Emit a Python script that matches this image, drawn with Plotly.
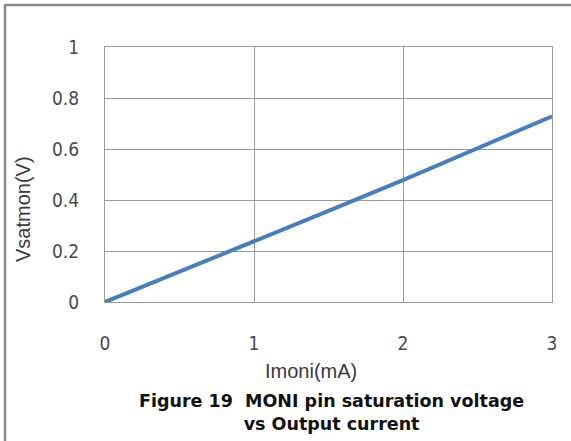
import plotly.graph_objects as go

imoni_ma = [0, 0.5, 1, 1.5, 2, 2.5, 3]
vsatmon_v = [0, 0.118, 0.237, 0.357, 0.478, 0.602, 0.728]
x_ticks = [0, 1, 2, 3]
y_ticks = [0, 0.2, 0.4, 0.6, 0.8, 1]

W, H = 571, 441
L, R, T, B = 105, 19, 47, 139
pw, ph = W - L - R, H - T - B

def px(x):
    return (x - L) / pw

def py(y):
    return (H - B - y) / ph

fig = go.Figure()
fig.add_trace(go.Scatter(x=imoni_ma, y=vsatmon_v, mode="lines",
                         line=dict(color="#4a7ebb", width=4), showlegend=False))

tickfont = dict(family="DejaVu Sans Condensed, Liberation Serif, serif", size=19, color="#4a4a4a")
fig.update_layout(
    width=W, height=H,
    margin=dict(l=L, r=R, t=T, b=B),
    paper_bgcolor="white", plot_bgcolor="white",
    xaxis=dict(range=[0, 3], tickvals=x_ticks, ticktext=[str(v) for v in x_ticks],
               showgrid=True, gridcolor="#9a9a9a", gridwidth=1,
               showline=True, linecolor="#9a9a9a", mirror=True, zeroline=False,
               ticks="", tickfont=tickfont, ticklabelstandoff=24),
    yaxis=dict(range=[0, 1], tickvals=y_ticks, ticktext=["0", "0.2", "0.4", "0.6", "0.8", "1"],
               showgrid=True, gridcolor="#9a9a9a", gridwidth=1,
               showline=True, linecolor="#9a9a9a", mirror=True, zeroline=False,
               ticks="", tickfont=tickfont, ticklabelstandoff=21),
)

# outer frame (left and top edges visible)
fig.add_shape(type="line", xref="paper", yref="paper", x0=px(5), x1=px(5),
              y0=py(5), y1=py(445), line=dict(color="#8a8a8a", width=2.5))
fig.add_shape(type="line", xref="paper", yref="paper", x0=px(4), x1=px(575),
              y0=py(5), y1=py(5), line=dict(color="#8a8a8a", width=2.5))

titlefont = dict(family="Liberation Sans, Arial", size=20, color="#3a3a3a")
fig.add_annotation(xref="paper", yref="paper", x=px(311), y=py(371), text="Imoni(mA)",
                   xanchor="center", yanchor="middle", showarrow=False, font=titlefont)
fig.add_annotation(xref="paper", yref="paper", x=px(23), y=py(209), text="Vsatmon(V)",
                   xanchor="center", yanchor="middle", textangle=-90, showarrow=False,
                   font=titlefont)
fig.add_annotation(xref="paper", yref="paper", x=px(331), y=py(412),
                   text="<b>Figure 19  MONI pin saturation voltage<br>vs Output current</b>",
                   xanchor="center", yanchor="middle", showarrow=False, align="center",
                   font=dict(family="DejaVu Sans, Verdana", size=17.5, color="#111111"))

fig.write_html("out.html", config={"displayModeBar": False},
               post_script="document.body.style.margin='0px';")
